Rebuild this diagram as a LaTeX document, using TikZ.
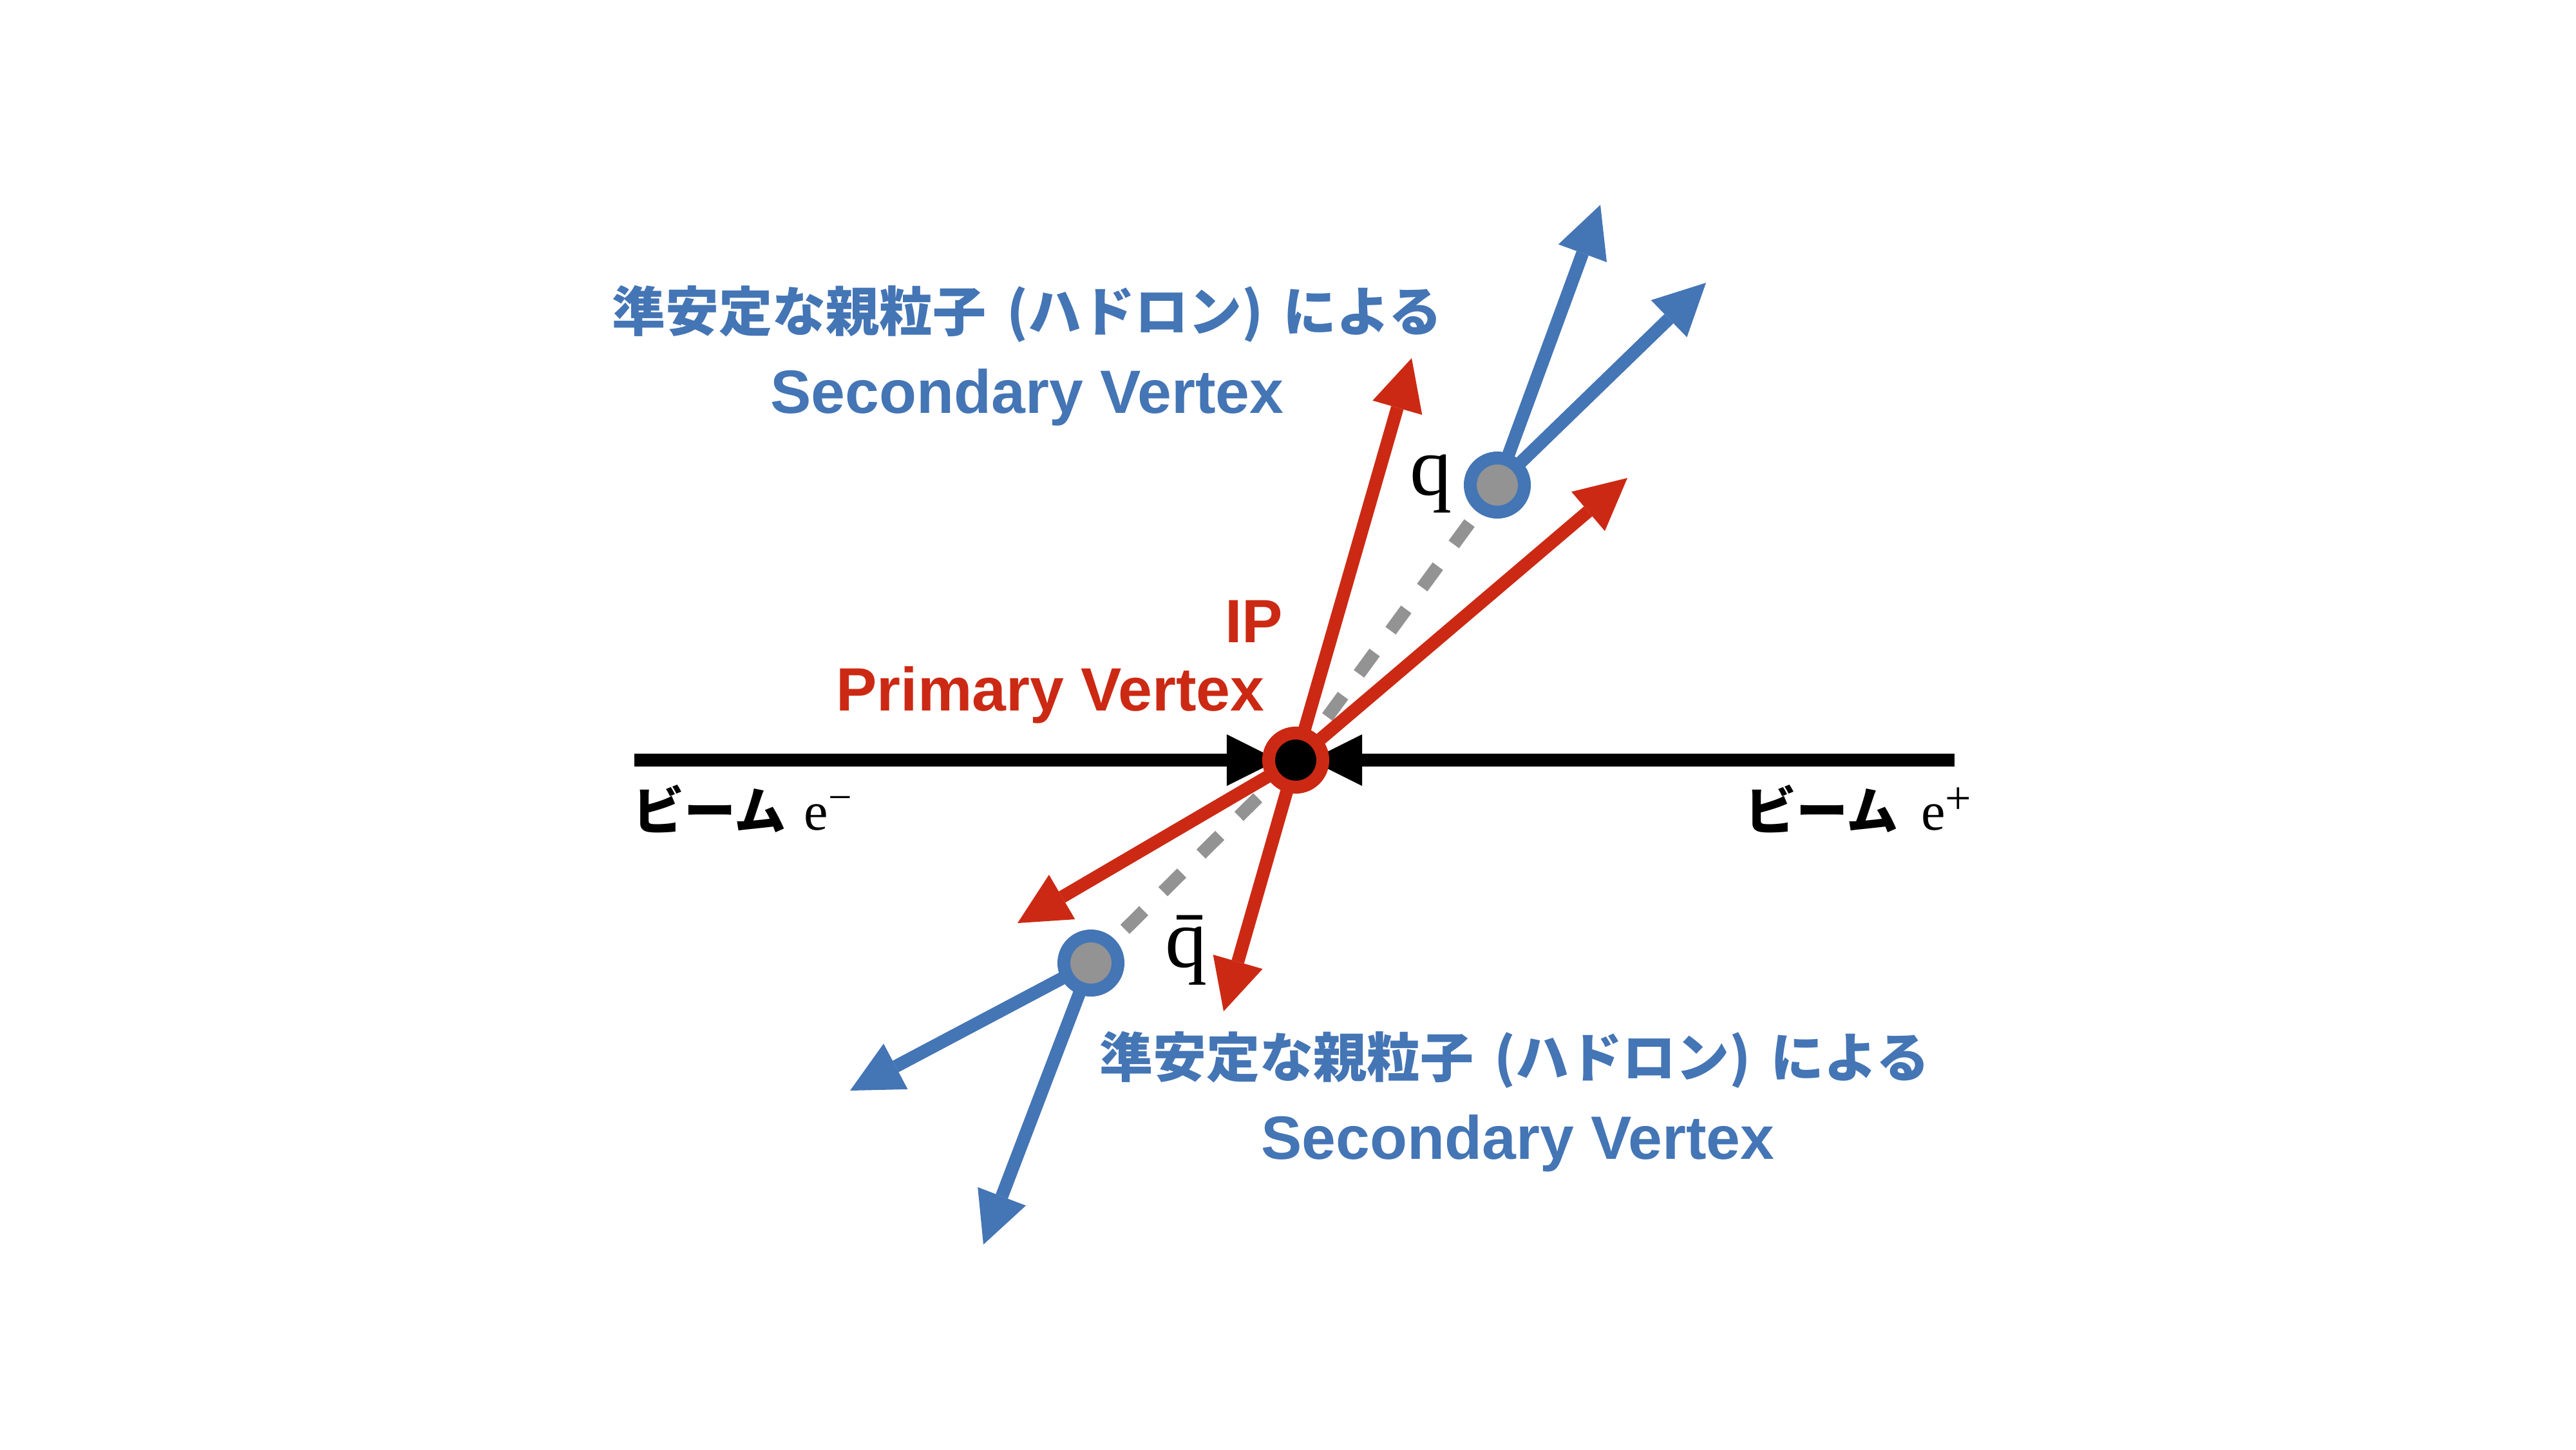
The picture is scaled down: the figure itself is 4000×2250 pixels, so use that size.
\documentclass[tikz,border=0pt]{standalone}
\usepackage{fontspec}
\usetikzlibrary{arrows.meta}
\newfontfamily\jpfont{Noto Sans CJK JP}
\newfontfamily\lsans{Liberation Sans}
\newfontfamily\lserif{Liberation Serif}
\definecolor{vblue}{RGB}{68,117,181}
\definecolor{vred}{RGB}{204,41,20}
\definecolor{vgray}{RGB}{147,147,147}
\newcommand{\jsp}{\hspace{0.38em}}
\tikzset{
  trk/.style={line width=5.69pt, -{Triangle[length=0.8cm,width=0.8cm,line width=0pt]}},
  redtrk/.style={trk, draw=vred},
  bluetrk/.style={trk, draw=vblue},
  beamline/.style={trk, draw=black},
  flight/.style={draw=vgray, line width=5.69pt, dash pattern=on 0.41cm off 0.42cm},
  vtx/.style={circle, line width=5.69pt, minimum size=0.84cm, inner sep=0pt},
  lbl/.style={anchor=base, inner sep=0pt},
  bluelbl/.style={lbl, text=vblue},
  redlbl/.style={lbl, text=vred},
  jpf/.style={font=\jpfont\bfseries\fontsize{23.6pt}{28pt}\selectfont},
  enf/.style={font=\lsans\bfseries\fontsize{27pt}{32pt}\selectfont},
  qf/.style={font=\lserif\fontsize{37pt}{40pt}\selectfont},
}
\begin{document}
\begin{tikzpicture}[x=0.01cm,y=-0.01cm]
\useasboundingbox[fill=white] (0,0) rectangle (4000,2250);
% centres and free ends
\coordinate (IPc) at (2012,1180);
\coordinate (Qc) at (2325,753);
\coordinate (QBc) at (1694,1495);
\coordinate (beamL) at (985,1180);
\coordinate (beamR) at (3035,1180);
\coordinate (tipL) at (1985,1180);
\coordinate (tipR) at (2035,1180);
\coordinate (r1) at (2192,556);
\coordinate (r2) at (2527,742);
\coordinate (r3) at (1580,1433);
\coordinate (r4) at (1900,1570);
\coordinate (b1) at (2485,318);
\coordinate (b2) at (2649,439);
\coordinate (b3) at (1320,1693);
\coordinate (b4) at (1527,1932);
% beams
\draw[beamline] (beamL) -- (tipL);
\draw[beamline] (beamR) -- (tipR);
% flight paths
\draw[flight] (IPc) -- (Qc);
\draw[flight] (IPc) -- (QBc);
% primary tracks
\draw[redtrk] (IPc) -- (r1);
\draw[redtrk] (IPc) -- (r2);
\draw[redtrk] (IPc) -- (r3);
\draw[redtrk] (IPc) -- (r4);
% secondary tracks
\draw[bluetrk] (Qc) -- (b1);
\draw[bluetrk] (Qc) -- (b2);
\draw[bluetrk] (QBc) -- (b3);
\draw[bluetrk] (QBc) -- (b4);
% vertices
\node[vtx, draw=vred, fill=black] (ip) at (IPc) {};
\node[vtx, draw=vblue, fill=vgray] (q) at (Qc) {};
\node[vtx, draw=vblue, fill=vgray] (qb) at (QBc) {};
% labels
\node[bluelbl, jpf] (svtj) at (1595,514) {準安定な親粒子\jsp(ハドロン)\jsp による};
\node[bluelbl, enf] (svte) at (1595,641) {Secondary Vertex};
\node[bluelbl, jpf] (svbj) at (2352,1672) {準安定な親粒子\jsp(ハドロン)\jsp による};
\node[bluelbl, enf] (svbe) at (2357,1799) {Secondary Vertex};
\node[redlbl, enf] (iplab) at (1947,997) {IP};
\node[redlbl, enf] (pvlab) at (1631,1103) {Primary Vertex};
\node[lbl, qf] (qlab) at (2222,768) {q};
\node[lbl, qf] (qblab) at (1842,1501) {\=q};
\node[anchor=base west, inner sep=0pt] (em) at (982,1288)
  {{\jpfont\bfseries\fontsize{22.8pt}{26pt}\selectfont ビーム}\hspace{8pt}{\lserif\fontsize{24pt}{28pt}\selectfont e\raisebox{8pt}{\fontsize{18.5pt}{20pt}\selectfont −}}};
\node[anchor=base west, inner sep=0pt] (ep) at (2709,1288)
  {{\jpfont\bfseries\fontsize{22.8pt}{26pt}\selectfont ビーム}\hspace{10pt}{\lserif\fontsize{24pt}{28pt}\selectfont e\raisebox{7pt}{\fontsize{20.5pt}{22pt}\selectfont +}}};
\end{tikzpicture}
\end{document}
